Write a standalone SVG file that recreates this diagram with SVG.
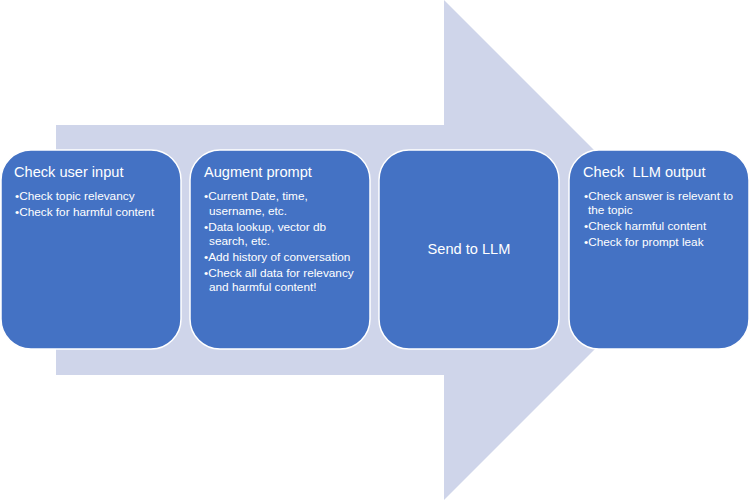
<svg xmlns="http://www.w3.org/2000/svg" width="750" height="500" viewBox="0 0 750 500">
<style>
.box{fill:#4472C4;stroke:#ffffff;stroke-width:1.5}
.t{font-family:"Liberation Sans",Arial,sans-serif;fill:#ffffff}
.h{font-size:14.6px}
.b{font-size:11.8px}
</style>
<rect width="750" height="500" fill="#ffffff"/>
<g id="arrow">
<polygon points="56,125 444,125 444,0 694,250 444,500 444,375 56,375" fill="#CFD5EA"/>
</g>
<g id="connectors"></g>
<g id="node1">
<rect class="box" x="1" y="150" width="180" height="199" rx="30" ry="30"/>
<text class="t h" x="14" y="177">Check user input</text>
<text class="t b" x="15" y="200">•Check topic relevancy</text>
<text class="t b" x="15" y="216">•Check for harmful content</text>
</g>
<g id="node2">
<rect class="box" x="190" y="150" width="180" height="199" rx="30" ry="30"/>
<text class="t h" x="204" y="177">Augment prompt</text>
<text class="t b" x="204" y="200">•Current Date, time,</text>
<text class="t b" x="209" y="215">username, etc.</text>
<text class="t b" x="204" y="231">•Data lookup, vector db</text>
<text class="t b" x="209" y="245">search, etc.</text>
<text class="t b" x="204" y="261">•Add history of conversation</text>
<text class="t b" x="204" y="277">•Check all data for relevancy</text>
<text class="t b" x="209" y="291">and harmful content!</text>
</g>
<g id="node3">
<rect class="box" x="379" y="150" width="180" height="199" rx="30" ry="30"/>
<text class="t h" x="469" y="254" text-anchor="middle">Send to LLM</text>
</g>
<g id="node4">
<rect class="box" x="569" y="150" width="180" height="199" rx="30" ry="30"/>
<text class="t h" x="583" y="177" xml:space="preserve">Check  LLM output</text>
<text class="t b" x="584" y="200">•Check answer is relevant to</text>
<text class="t b" x="588" y="214">the topic</text>
<text class="t b" x="584" y="230">•Check harmful content</text>
<text class="t b" x="584" y="246">•Check for prompt leak</text>
</g>
</svg>
